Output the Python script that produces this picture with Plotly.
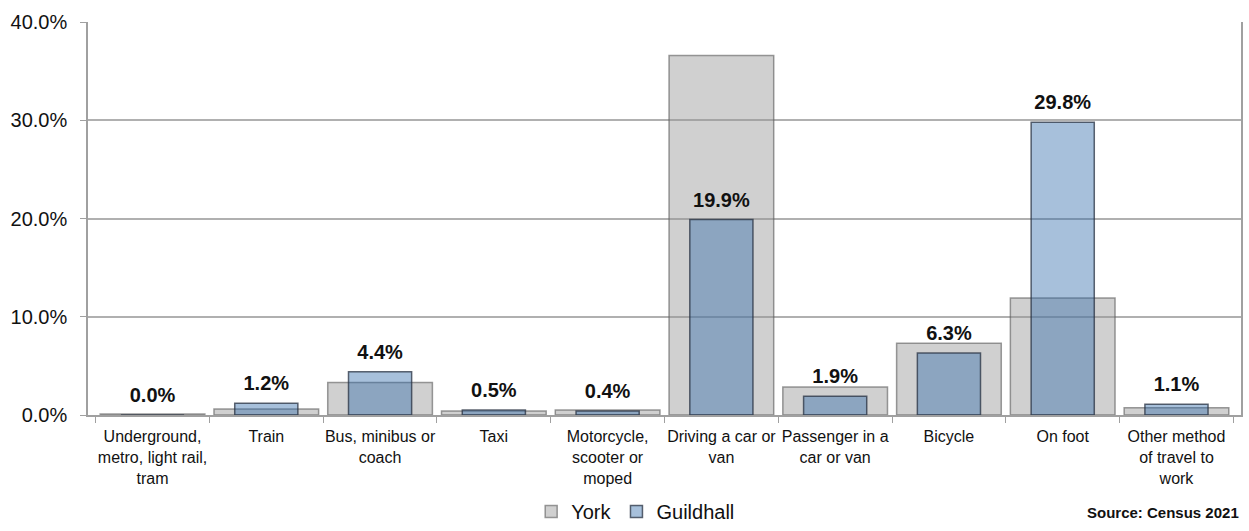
import plotly.graph_objects as go

categories = [
    "Underground,<br>metro, light rail,<br>tram",
    "Train",
    "Bus, minibus or<br>coach",
    "Taxi",
    "Motorcycle,<br>scooter or<br>moped",
    "Driving a car or<br>van",
    "Passenger in a<br>car or van",
    "Bicycle",
    "On foot",
    "Other method<br>of travel to<br>work",
]
york = [0.1, 0.6, 3.3, 0.4, 0.5, 36.6, 2.85, 7.3, 11.9, 0.75]
guildhall = [0.0, 1.2, 4.4, 0.5, 0.4, 19.9, 1.9, 6.3, 29.8, 1.1]
y_ticks = [0, 10, 20, 30, 40]

FONT = "Liberation Sans, Arial, sans-serif"

fig = go.Figure()
fig.add_trace(go.Bar(
    x=categories, y=york, name="York", width=0.92,
    marker=dict(color="rgba(150,150,150,0.45)",
                line=dict(color="rgba(90,90,90,0.6)", width=1.5)),
    hoverinfo="skip",
))
fig.add_trace(go.Bar(
    x=categories, y=guildhall, name="Guildhall", width=0.555,
    marker=dict(color="rgba(45,105,170,0.42)",
                line=dict(color="rgba(40,50,65,0.75)", width=1.5)),
    hoverinfo="skip",
))
# data labels for Guildhall, lifted a little above the bar tops
fig.add_trace(go.Scatter(
    x=categories, y=guildhall, mode="markers+text",
    marker=dict(size=11, opacity=0),
    text=[f"{v:.1f}%" for v in guildhall], textposition="top center",
    textfont=dict(family=FONT, size=20, color="#111111", weight="bold"),
    cliponaxis=False, showlegend=False, hoverinfo="skip",
))

fig.update_layout(
    width=1249, height=531,
    barmode="overlay",
    plot_bgcolor="white", paper_bgcolor="white",
    margin=dict(l=88, r=8, t=22, b=116),
    font=dict(family=FONT, color="#111111"),
    legend=dict(orientation="h", x=0.475, xanchor="center",
                yref="container", y=-0.015, yanchor="bottom",
                font=dict(size=20, family=FONT), itemwidth=30, traceorder="normal",
                tracegroupgap=0),
    annotations=[dict(text="<b>Source: Census 2021</b>", xref="paper", yref="paper",
                      x=1.0, y=-0.247, xanchor="right", yanchor="middle", showarrow=False,
                      font=dict(size=15, family=FONT, color="#111111"))],
)
fig.update_xaxes(
    type="category", tickson="boundaries", ticks="outside", ticklen=6,
    tickcolor="#a0a0a0", showline=True, linecolor="#a0a0a0", linewidth=1.5,
    tickfont=dict(size=16, family=FONT, color="#111111"), showgrid=False,
    tickangle=0, automargin=False, ticklabelstandoff=6,
)
fig.update_yaxes(
    range=[0, 40], tickvals=y_ticks, ticktext=[f"{v:.1f}%" for v in y_ticks],
    ticks="outside", ticklen=6, tickcolor="#a0a0a0",
    showline=True, linecolor="#a0a0a0", linewidth=1.5, mirror=True,
    showgrid=True, gridcolor="#b0b0b0", gridwidth=1.5, zeroline=False,
    tickfont=dict(size=20, family=FONT, color="#111111"), automargin=False,
    ticklabelstandoff=9,
)

fig.write_html("out.html", config={"displayModeBar": False},
               post_script="document.body.style.margin='0';")
